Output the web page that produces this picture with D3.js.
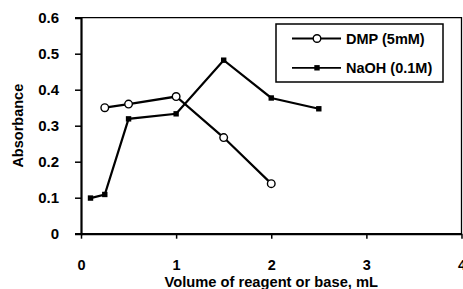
<!DOCTYPE html>
<html>
<head>
<meta charset="utf-8">
<script src="https://cdn.jsdelivr.net/npm/d3@7"></script>
<style>
  body { margin: 0; background: #fff; }
  text { font-family: "Liberation Sans", Arial, sans-serif; font-weight: bold; fill: #000; }
</style>
</head>
<body>
<div id="chart"></div>
<script>
// data
const dmp_x = [0.25, 0.5, 1.0, 1.5, 2.0]
const dmp_y = [0.35, 0.36, 0.381, 0.267, 0.139]
const naoh_x = [0.1, 0.25, 0.5, 1.0, 1.5, 2.0, 2.5]
const naoh_y = [0.099, 0.109, 0.319, 0.333, 0.482, 0.377, 0.347]
const x_ticks = [0, 1, 2, 3, 4]
const y_ticks = [0, 0.1, 0.2, 0.3, 0.4, 0.5, 0.6]
const series_names = ["DMP (5mM)", "NaOH (0.1M)"]

const width = 463
const height = 289
const margin = { left: 81, right: 1.5, top: 17.7, bottom: 55.3 }
const font = '"Liberation Sans", Arial, sans-serif'

const svg = d3.select('#chart')
    .append('svg')
    .attr('width', width)
    .attr('height', height)

const x = d3.scaleLinear().domain([0, 4]).range([margin.left, width - margin.right])
const y = d3.scaleLinear().domain([0, 0.6]).range([height - margin.bottom, margin.top])

// frame: thin top/right
svg.append('path')
    .attr('d', `M${x(0)},${y(0.6)} H${x(4)} V${y(0)}`)
    .attr('fill', 'none')
    .attr('stroke', '#000')
    .attr('stroke-width', 1.3)

// y axis
const yAxis = svg.append('g')
    .attr('transform', `translate(${x(0)},0)`)
    .call(d3.axisLeft(y).tickValues(y_ticks).tickSize(6).tickFormat(d => d === 0 ? '0' : d3.format('.1f')(d)))
yAxis.select('.domain').attr('stroke-width', 2.2)
yAxis.selectAll('.tick line').attr('stroke-width', 1.5)
yAxis.selectAll('.tick text')
    .attr('x', -22)
    .style('font-size', '15px')
    .style('font-family', font)
    .style('font-weight', 'bold')

// x axis
const xAxis = svg.append('g')
    .attr('transform', `translate(0,${y(0)})`)
    .call(d3.axisBottom(x).tickValues(x_ticks).tickSize(5).tickSizeOuter(0).tickFormat(d3.format('d')))
xAxis.select('.domain').attr('stroke-width', 2.2)
xAxis.selectAll('.tick line').attr('stroke-width', 1.5)
xAxis.selectAll('.tick text')
    .attr('y', 26.5)
    .style('font-size', '14.5px')
    .style('font-family', font)
    .style('font-weight', 'bold')

// axis titles
svg.append('text')
    .attr('x', (x(0) + x(4)) / 2)
    .attr('y', 287)
    .attr('text-anchor', 'middle')
    .style('font-size', '14.7px')
    .text('Volume of reagent or base, mL')

svg.append('text')
    .attr('transform', `translate(23,${(y(0) + y(0.6)) / 2}) rotate(-90)`)
    .attr('text-anchor', 'middle')
    .style('font-size', '14.5px')
    .text('Absorbance')

const line = d3.line().x(d => x(d[0])).y(d => y(d[1]))
const dmp = dmp_x.map((v, i) => [v, dmp_y[i]])
const naoh = naoh_x.map((v, i) => [v, naoh_y[i]])

svg.append('path').datum(dmp).attr('d', line)
    .attr('fill', 'none').attr('stroke', '#000').attr('stroke-width', 2.2)
svg.append('path').datum(naoh).attr('d', line)
    .attr('fill', 'none').attr('stroke', '#000').attr('stroke-width', 2.2)

svg.selectAll('circle.dmp')
    .data(dmp)
    .enter()
    .append('circle')
    .attr('cx', d => x(d[0]))
    .attr('cy', d => y(d[1]))
    .attr('r', 3.8)
    .attr('fill', '#fff')
    .attr('stroke', '#000')
    .attr('stroke-width', 1.4)

svg.selectAll('rect.naoh')
    .data(naoh)
    .enter()
    .append('rect')
    .attr('x', d => x(d[0]) - 2.7)
    .attr('y', d => y(d[1]) - 2.7)
    .attr('width', 5.4)
    .attr('height', 5.4)
    .attr('fill', '#000')

// legend
const legend = svg.append('g').attr('transform', 'translate(276,24)')
legend.append('rect')
    .attr('width', 167)
    .attr('height', 58)
    .attr('fill', '#fff')
    .attr('stroke', '#000')
    .attr('stroke-width', 1.5)

series_names.forEach((name, i) => {
    const row = legend.append('g').attr('transform', `translate(0,${14.5 + i * 29.3})`)
    row.append('line')
        .attr('x1', 16).attr('x2', 65)
        .attr('stroke', '#000').attr('stroke-width', 1.8)
    if (i === 0) {
        row.append('circle').attr('cx', 41).attr('r', 3.8)
            .attr('fill', '#fff').attr('stroke', '#000').attr('stroke-width', 1.4)
    } else {
        row.append('rect').attr('x', 41 - 2.7).attr('y', -2.7)
            .attr('width', 5.4).attr('height', 5.4).attr('fill', '#000')
    }
    row.append('text')
        .attr('x', 70)
        .attr('dy', '0.35em')
        .style('font-size', '14.5px')
        .text(name)
})
</script>
</body>
</html>
